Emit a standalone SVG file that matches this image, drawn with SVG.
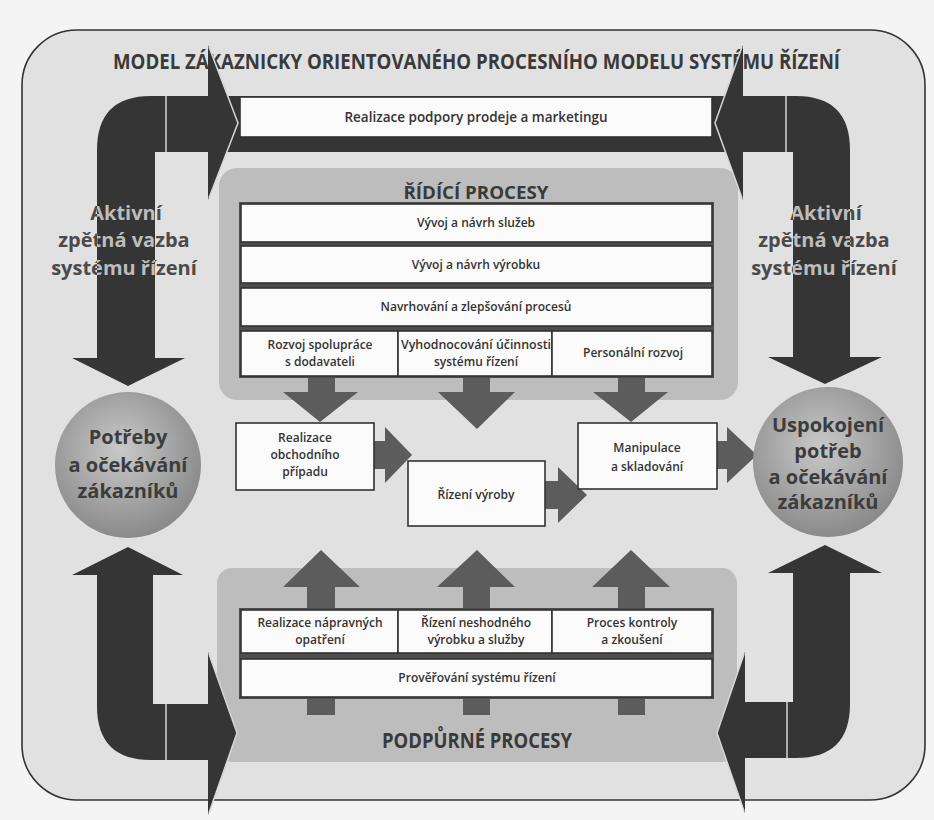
<svg xmlns="http://www.w3.org/2000/svg" width="934" height="820" viewBox="0 0 934 820">
<style>
.t{font-family:"Open Sans","DejaVu Sans",sans-serif;fill:#333;text-anchor:middle}
.bx{font-size:12px;font-weight:600}
.hd{font-weight:700;fill:#3a3a3a}
.box{fill:#fbfbfb;stroke:#333;stroke-width:1.6}
.dk{fill:#353535}
.mid{fill:#5c5c5c}
.sep{stroke:#d6d6d6;stroke-width:1.5;fill:none}
.cir{font-size:20px;font-weight:700;fill:#3c3c3c}
.akt{font-size:20px;font-weight:700}
</style>
<defs>
<radialGradient id="g" cx="0.45" cy="0.4" r="0.6">
<stop offset="0" stop-color="#c9c9c9"/>
<stop offset="1" stop-color="#8a8a8a"/>
</radialGradient>
<linearGradient id="ak" gradientUnits="userSpaceOnUse" x1="0" y1="0" x2="934" y2="0">
<stop offset="0" stop-color="#4a4a4a"/>
<stop offset="0.1039" stop-color="#4a4a4a"/>
<stop offset="0.1039" stop-color="#bdbdbd"/>
<stop offset="0.1660" stop-color="#bdbdbd"/>
<stop offset="0.1660" stop-color="#4a4a4a"/>
<stop offset="0.8490" stop-color="#4a4a4a"/>
<stop offset="0.8490" stop-color="#bdbdbd"/>
<stop offset="0.9101" stop-color="#bdbdbd"/>
<stop offset="0.9101" stop-color="#4a4a4a"/>
<stop offset="1" stop-color="#4a4a4a"/>
</linearGradient>
</defs>
<rect width="934" height="820" fill="#f4f4f4"/>
<rect x="22" y="30" width="903" height="770" rx="55" fill="#e1e1e1" stroke="#333" stroke-width="1.6"/>

<g id="title"><text class="t hd" x="113" y="69" font-size="22" textLength="727" lengthAdjust="spacingAndGlyphs" style="text-anchor:start">MODEL ZÁKAZNICKY ORIENTOVANÉHO PROCESNÍHO MODELU SYSTÉMU ŘÍZENÍ</text></g>

<g id="ridici-panel">
<rect x="219" y="168" width="519" height="232" rx="18" fill="#bdbdbd"/>
<text class="t hd" x="476" y="199" font-size="18" textLength="145" lengthAdjust="spacingAndGlyphs">ŘÍDÍCÍ PROCESY</text>
</g>
<g id="podpurne-panel">
<rect x="217" y="568" width="520" height="194" rx="15" fill="#bdbdbd"/>
<text class="t hd" x="477" y="748" font-size="21" textLength="190" lengthAdjust="spacingAndGlyphs">PODPŮRNÉ PROCESY</text>
</g>

<g id="connectors">
<path class="dk" d="M97 358 L97 150 Q97 96 151 96 L796 96 Q850 96 850 150 L850 358 L793 358 L793 152 L155 152 L155 358 Z"/>
<line class="sep" x1="166" y1="96" x2="166" y2="152"/>
<line class="sep" x1="786" y1="96" x2="786" y2="152"/>
<polygon class="dk" points="72,358 185,358 128,386"/>
<polygon class="dk" points="768,357 882,357 825,384"/>
<path class="dk" d="M97 575 L97 706 Q97 760 151 760 L208 760 L208 704 L153 704 L153 575 Z"/>
<line class="sep" x1="166" y1="704" x2="166" y2="760"/>
<polygon class="dk" points="72,575 183,575 128,547"/>
<path class="dk" d="M850 573 L850 704 Q850 758 796 758 L745 758 L745 702 L793 702 L793 573 Z"/>
<line class="sep" x1="787" y1="702" x2="787" y2="758"/>
<polygon class="dk" points="768,573 882,573 825,545"/>
<polygon class="mid" points="308,376 335,376 335,392 358,392 320,422 283,392 308,392"/>
<polygon class="mid" points="463,376 490,376 490,392 515,392 477,429 438,392 463,392"/>
<polygon class="mid" points="618,376 645,376 645,392 668,392 631,422 593,392 618,392"/>
<polygon class="mid" points="307,715 335,715 335,587 360,587 321,550 283,587 307,587"/>
<polygon class="mid" points="463,715 490,715 490,587 515,587 477,550 437,587 463,587"/>
<polygon class="mid" points="618,715 645,715 645,587 670,587 631,550 592,587 618,587"/>
<polygon class="mid" points="374,441 385,441 385,427 412,455 385,483 385,469 374,469"/>
<polygon class="mid" points="545,481 558,481 558,467 587,495 558,523 558,509 545,509"/>
<polygon class="mid" points="717,441 727,441 727,427 757,455 727,483 727,469 717,469"/>
</g>

<g id="marketing">
<rect class="box" x="240" y="97" width="472" height="40"/>
<text class="t" x="476" y="122" font-size="13.5" font-weight="600">Realizace podpory prodeje a marketingu</text>
</g>

<g id="chevrons">
<polygon class="dk" points="208,45 238,123 208,200"/>
<polyline class="sep" points="209,47 238,123 209,198" stroke-width="1"/>
<polygon class="dk" points="743,45 715,123 743,200"/>
<polyline class="sep" points="742,47 715,123 742,198" stroke-width="1"/>
<polygon class="dk" points="208,652 237,733 208,815"/>
<polyline class="sep" points="209,654 237,733 209,813" stroke-width="1"/>
<polygon class="dk" points="745,652 717,733 745,813"/>
<polyline class="sep" points="744,654 717,733 744,811" stroke-width="1"/>
</g>

<g id="ridici-boxes">
<rect x="239" y="202" width="475" height="176" fill="#4d4d4d"/>
<g id="sluzby"><rect class="box" x="241" y="204" width="471" height="38"/><text class="t bx" x="476" y="227">Vývoj a návrh služeb</text></g>
<g id="vyrobek"><rect class="box" x="241" y="246" width="471" height="37"/><text class="t bx" x="476" y="269">Vývoj a návrh výrobku</text></g>
<g id="procesy"><rect class="box" x="241" y="288" width="471" height="38"/><text class="t bx" x="476" y="311">Navrhování a zlepšování procesů</text></g>
<g id="dodavatele"><rect class="box" x="241" y="331" width="157" height="45"/><text class="t bx" x="320" y="349">Rozvoj spolupráce</text><text class="t bx" x="320" y="366">s dodavateli</text></g>
<g id="ucinnost"><rect class="box" x="398" y="331" width="154" height="45"/><text class="t bx" x="476" y="349" textLength="150" lengthAdjust="spacingAndGlyphs">Vyhodnocování účinnosti</text><text class="t bx" x="476" y="366">systému řízení</text></g>
<g id="personal"><rect class="box" x="552" y="331" width="160" height="45"/><text class="t bx" x="633" y="357">Personální rozvoj</text></g>
</g>

<g id="obchod"><rect class="box" x="236" y="423" width="138" height="67"/><text class="t bx" x="305" y="442">Realizace</text><text class="t bx" x="305" y="459">obchodního</text><text class="t bx" x="305" y="476">případu</text></g>
<g id="vyroba"><rect class="box" x="408" y="461" width="137" height="65"/><text class="t bx" x="476" y="499">Řízení výroby</text></g>
<g id="manipulace"><rect class="box" x="578" y="423" width="139" height="66"/><text class="t bx" x="647" y="452">Manipulace</text><text class="t bx" x="647" y="471">a skladování</text></g>

<g id="podpurne-boxes">
<rect x="239" y="608" width="475" height="91" fill="#4d4d4d"/>
<g id="napravna"><rect class="box" x="241" y="610" width="157" height="43"/><text class="t bx" x="320" y="627">Realizace nápravných</text><text class="t bx" x="320" y="644">opatření</text></g>
<g id="neshoda"><rect class="box" x="398" y="610" width="154" height="43"/><text class="t bx" x="476" y="627">Řízení neshodného</text><text class="t bx" x="476" y="644">výrobku a služby</text></g>
<g id="kontrola"><rect class="box" x="552" y="610" width="160" height="43"/><text class="t bx" x="632" y="627">Proces kontroly</text><text class="t bx" x="632" y="644">a zkoušení</text></g>
<g id="proverovani"><rect class="box" x="241" y="659" width="471" height="38"/><text class="t bx" x="477" y="682">Prověřování systému řízení</text></g>
</g>

<g id="potreby">
<circle cx="128" cy="465" r="73" fill="url(#g)"/>
<text class="t cir" x="128" y="444">Potřeby</text>
<text class="t cir" x="128" y="472">a očekávání</text>
<text class="t cir" x="128" y="498">zákazníků</text>
</g>
<g id="uspokojeni">
<circle cx="828" cy="462" r="75" fill="url(#g)"/>
<text class="t cir" x="828" y="432">Uspokojení</text>
<text class="t cir" x="828" y="458">potřeb</text>
<text class="t cir" x="828" y="484">a očekávání</text>
<text class="t cir" x="828" y="509">zákazníků</text>
</g>

<g id="zpetna-vazba-leva">
<text class="t akt" x="126" y="220" style="fill:url(#ak)">Aktivní</text>
<text class="t akt" x="124" y="247" style="fill:url(#ak)">zpětná vazba</text>
<text class="t akt" x="124" y="275" style="fill:url(#ak)">systému řízení</text>
</g>
<g id="zpetna-vazba-prava">
<text class="t akt" x="826" y="220" style="fill:url(#ak)">Aktivní</text>
<text class="t akt" x="824" y="247" style="fill:url(#ak)">zpětná vazba</text>
<text class="t akt" x="824" y="275" style="fill:url(#ak)">systému řízení</text>
</g>
</svg>
